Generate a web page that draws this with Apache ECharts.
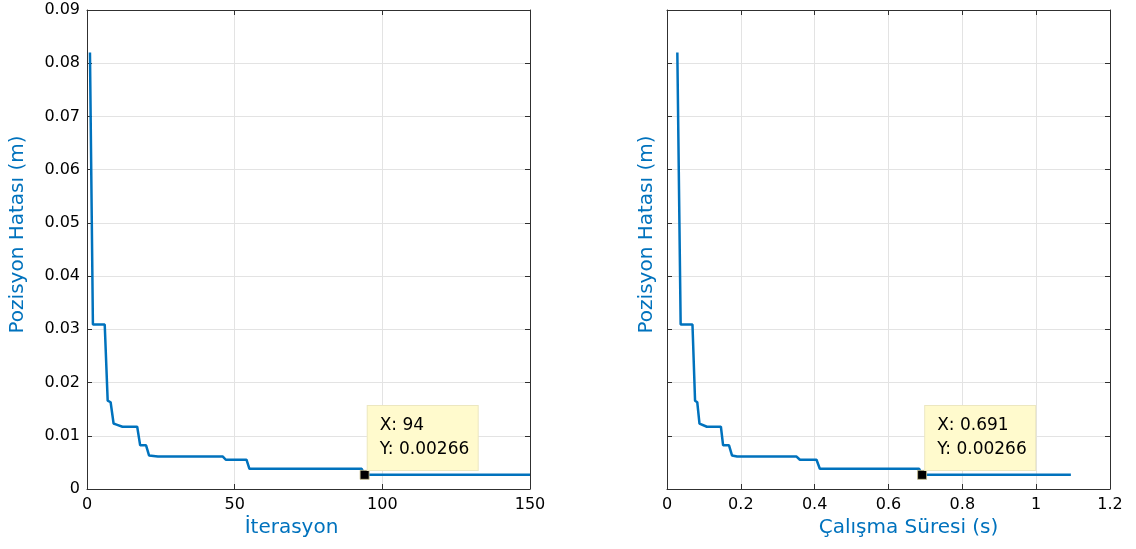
<!DOCTYPE html>
<html>
<head>
<meta charset="utf-8">
<script src="https://cdn.jsdelivr.net/npm/echarts@6/dist/echarts.min.js"></script>
<style>
html,body{margin:0;padding:0;background:#fff;}
#c{width:1136px;height:549px;}
</style>
</head>
<body>
<div id="c"></div>
<script>
// Data
const iterations = [1, 2, 6, 7, 8, 9, 10, 12, 17, 18, 20, 21, 24, 46, 47, 54, 55, 93, 94, 150];
const times = [0.028, 0.037, 0.069, 0.076, 0.082, 0.088, 0.093, 0.108, 0.146, 0.152, 0.168, 0.176, 0.190, 0.351, 0.360, 0.405, 0.414, 0.683, 0.691, 1.094];
const errors = [0.0820, 0.0309, 0.0309, 0.0166, 0.0163, 0.0123, 0.0121, 0.0117, 0.0117, 0.0082, 0.0082, 0.0063, 0.0061, 0.0061, 0.0055, 0.0055, 0.0038, 0.0038, 0.00266, 0.00266];
const tipLeft = [94, 0.00266];
const tipRight = [0.691, 0.00266];
const tipLeftText = ['X: 94', 'Y: 0.00266'];
const tipRightText = ['X: 0.691', 'Y: 0.00266'];
const yLabel = 'Pozisyon Hatası (m)';
const xLabelLeft = 'İterasyon';
const xLabelRight = 'Çalışma Süresi (s)';
const yRange = [0, 0.09, 0.01];
const xRangeLeft = [0, 150, 50];
const xRangeRight = [0, 1.2, 0.2];

const FONT = 'DejaVu Sans';
const AX = '#303030';
const GRID = '#e3e3e3';
const BLUE = '#0072BD';

function mainX(gi, r, name, pad) {
  return {
    type: 'value', gridIndex: gi, min: r[0], max: r[1], interval: r[2],
    position: 'bottom',
    name: name, nameLocation: 'middle', nameGap: 29,
    nameTextStyle: {fontFamily: FONT, fontSize: 20, color: BLUE, padding: pad},
    axisLine: {show: true, onZero: false, lineStyle: {color: AX, width: 1}},
    axisTick: {show: true, inside: true, length: 5, lineStyle: {color: AX}},
    axisLabel: {fontFamily: FONT, fontSize: 16, color: '#000', margin: 8},
    splitLine: {show: true, lineStyle: {color: GRID, width: 1}}
  };
}
function sideX(gi, r) {
  return {
    type: 'value', gridIndex: gi, min: r[0], max: r[1], interval: r[2],
    position: 'top',
    axisLine: {show: true, onZero: false, lineStyle: {color: AX, width: 1}},
    axisTick: {show: true, inside: true, length: 5, lineStyle: {color: AX}},
    axisLabel: {show: false}, splitLine: {show: false}
  };
}
function mainY(gi, showLabels, gap) {
  return {
    type: 'value', gridIndex: gi, min: yRange[0], max: yRange[1], interval: yRange[2],
    position: 'left',
    name: yLabel, nameLocation: 'middle', nameGap: gap,
    nameTextStyle: {fontFamily: FONT, fontSize: 20, color: BLUE, padding: [0, 0, 0, 30]},
    axisLine: {show: true, onZero: false, lineStyle: {color: AX, width: 1}},
    axisTick: {show: true, inside: true, length: 5, lineStyle: {color: AX}},
    axisLabel: {show: showLabels, fontFamily: FONT, fontSize: 16, color: '#000', margin: 7},
    splitLine: {show: true, lineStyle: {color: GRID, width: 1}}
  };
}
function sideY(gi) {
  return {
    type: 'value', gridIndex: gi, min: yRange[0], max: yRange[1], interval: yRange[2],
    position: 'right',
    axisLine: {show: true, onZero: false, lineStyle: {color: AX, width: 1}},
    axisTick: {show: true, inside: true, length: 5, lineStyle: {color: AX}},
    axisLabel: {show: false}, splitLine: {show: false}
  };
}
function tipSeries(xi, yi, pt, lines) {
  return {
    type: 'scatter', xAxisIndex: xi, yAxisIndex: yi, z: 10,
    data: [pt], symbol: 'rect', symbolSize: 9,
    itemStyle: {color: '#000', opacity: 1, borderColor: '#c8c090', borderWidth: 0.8},
    label: {
      show: true, position: [8, -64],
      formatter: lines.join('\n'),
      fontFamily: FONT, fontSize: 17, color: '#000', lineHeight: 24,
      backgroundColor: '#FFFACD', borderColor: '#ece7c0', borderWidth: 1,
      padding: [8, 12, 8, 12], width: 86, align: 'left', opacity: 1
    },
    emphasis: {disabled: true}, silent: true
  };
}

const chart = echarts.init(document.getElementById('c'), null, {renderer: 'canvas'});
chart.setOption({
  animation: false,
  backgroundColor: '#fff',
  grid: [
    {left: 87, right: 606, top: 10, bottom: 60},
    {left: 667, right: 26, top: 10, bottom: 60}
  ],
  xAxis: [
    mainX(0, xRangeLeft, xLabelLeft, [0, 34, 0, 0]),
    mainX(1, xRangeRight, xLabelRight, [0, 0, 0, 40]),
    sideX(0, xRangeLeft),
    sideX(1, xRangeRight)
  ],
  yAxis: [
    mainY(0, true, 59),
    mainY(1, false, 10),
    sideY(0),
    sideY(1)
  ],
  series: [
    {type: 'line', xAxisIndex: 0, yAxisIndex: 0, showSymbol: false, symbol: 'none',
     data: iterations.map((v, i) => [v, errors[i]]),
     lineStyle: {color: BLUE, width: 2.5}, silent: true},
    {type: 'line', xAxisIndex: 1, yAxisIndex: 1, showSymbol: false, symbol: 'none',
     data: times.map((v, i) => [v, errors[i]]),
     lineStyle: {color: BLUE, width: 2.5}, silent: true},
    tipSeries(0, 0, tipLeft, tipLeftText),
    tipSeries(1, 1, tipRight, tipRightText)
  ]
});
</script>
</body>
</html>
